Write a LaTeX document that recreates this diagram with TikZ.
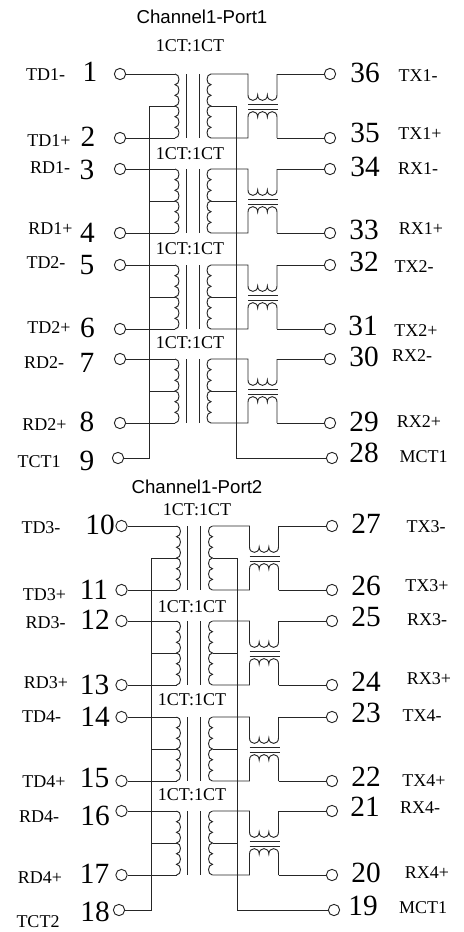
\documentclass[tikz,border=0pt]{standalone}
\usepackage{fontspec}
\setmainfont{Liberation Serif}
\newfontfamily\titlefont{Liberation Sans}
\usetikzlibrary{positioning}
\tikzset{
  term/.style={draw, circle, inner sep=0pt, minimum size=8.5pt},
  pinnum/.style={inner sep=0pt, text=black, font=\fontsize{22}{22}\selectfont},
  signame/.style={inner sep=0pt, text=black, font=\fontsize{13.5}{13.5}\selectfont},
  ratio/.style={inner sep=0pt, text=black, font=\fontsize{13.5}{13.5}\selectfont},
  porttitle/.style={inner sep=0pt, text=black, font=\titlefont\fontsize{14}{14}\selectfont},
  chan/.pic={
    \coordinate (-lt) at (175,0);
    \coordinate (-lc) at (175,32);
    \coordinate (-lb) at (175,64);
    \coordinate (-rc) at (211,32);
    \coordinate (-ct) at (277,0);
    \coordinate (-cb) at (277,64);
    \draw (175,0) \foreach \i in {1,...,6} {to[out=0,in=0,looseness=1.27] ++(0,10.67)};
    \draw (211,0) \foreach \i in {1,...,6} {to[out=180,in=180,looseness=1.27] ++(0,10.67)};
    \draw (186,0) -- (186,64);
    \draw (199,0) -- (199,64);
    \draw (211,0) -- (248,0) -- (248,21) \foreach \i in {1,2,3} {to[out=-90,in=-90,looseness=1.9] ++(9.67,0)} -- (277,0);
    \draw (211,64) -- (248,64) -- (248,43) \foreach \i in {1,2,3} {to[out=90,in=90,looseness=1.9] ++(9.67,0)} -- (277,64);
    \draw (248,30) -- (278,30);
    \draw (248,35) -- (278,35);
  }
}

\begin{document}
\begin{tikzpicture}[x=0.75pt,y=-0.75pt,line width=0.7pt,color=black!85]
      \useasboundingbox (0,0) rectangle (464,932);

      \node[porttitle] (title1) at (202,17) {Channel1-Port1};
      \node[porttitle] (title2) at (197,487) {Channel1-Port2};

      \node[ratio] (r1) at (190,46) {1CT:1CT};
      \node[ratio] (r2) at (190,154) {1CT:1CT};
      \node[ratio] (r3) at (190,249) {1CT:1CT};
      \node[ratio] (r4) at (190,343) {1CT:1CT};
      \node[ratio] (r5) at (197,510) {1CT:1CT};
      \node[ratio] (r6) at (192,607) {1CT:1CT};
      \node[ratio] (r7) at (192,700) {1CT:1CT};
      \node[ratio] (r8) at (192,795) {1CT:1CT};

      \pic (ch1) at (0,74) {chan};
      \pic (ch2) at (0,169) {chan};
      \pic (ch3) at (0,265) {chan};
      \pic (ch4) at (0,359) {chan};
      \pic (ch5) at (1.5,526) {chan};
      \pic (ch6) at (1.5,621) {chan};
      \pic (ch7) at (1.5,717) {chan};
      \pic (ch8) at (1.5,811) {chan};

      \node[term] (p1) at (120,74) {};
      \node[term] (p2) at (120,138) {};
      \node[term] (p3) at (120,169) {};
      \node[term] (p4) at (120,233) {};
      \node[term] (p5) at (120,265) {};
      \node[term] (p6) at (120,329) {};
      \node[term] (p7) at (120,359) {};
      \node[term] (p8) at (120,423) {};
      \node[term] (p9) at (118,458) {};
      \node[term] (p10) at (121.5,526) {};
      \node[term] (p11) at (121.5,590) {};
      \node[term] (p12) at (121.5,621) {};
      \node[term] (p13) at (121.5,685) {};
      \node[term] (p14) at (121.5,717) {};
      \node[term] (p15) at (121.5,781) {};
      \node[term] (p16) at (121.5,811) {};
      \node[term] (p17) at (121.5,875) {};
      \node[term] (p18) at (119,910) {};

      \node[term] (p36) at (330,74) {};
      \node[term] (p35) at (330,138) {};
      \node[term] (p34) at (330,169) {};
      \node[term] (p33) at (330,233) {};
      \node[term] (p32) at (330,265) {};
      \node[term] (p31) at (330,329) {};
      \node[term] (p30) at (330,359) {};
      \node[term] (p29) at (330,423) {};
      \node[term] (p28) at (332,458) {};
      \node[term] (p27) at (332,526) {};
      \node[term] (p26) at (332,590) {};
      \node[term] (p25) at (332,621) {};
      \node[term] (p24) at (332,685) {};
      \node[term] (p23) at (332,717) {};
      \node[term] (p22) at (332,781) {};
      \node[term] (p21) at (332,811) {};
      \node[term] (p20) at (332,875) {};
      \node[term] (p19) at (334,910) {};

      \coordinate (bl1) at (149,458);
      \coordinate (br1) at (236,458);
      \coordinate (bl2) at (151,910);
      \coordinate (br2) at (237.5,910);

      \draw (p1) -- (ch1-lt);
      \draw (p2) -- (ch1-lb);
      \draw (p3) -- (ch2-lt);
      \draw (p4) -- (ch2-lb);
      \draw (p5) -- (ch3-lt);
      \draw (p6) -- (ch3-lb);
      \draw (p7) -- (ch4-lt);
      \draw (p8) -- (ch4-lb);
      \draw (p10) -- (ch5-lt);
      \draw (p11) -- (ch5-lb);
      \draw (p12) -- (ch6-lt);
      \draw (p13) -- (ch6-lb);
      \draw (p14) -- (ch7-lt);
      \draw (p15) -- (ch7-lb);
      \draw (p16) -- (ch8-lt);
      \draw (p17) -- (ch8-lb);

      \draw (p36) -- (ch1-ct);
      \draw (p35) -- (ch1-cb);
      \draw (p34) -- (ch2-ct);
      \draw (p33) -- (ch2-cb);
      \draw (p32) -- (ch3-ct);
      \draw (p31) -- (ch3-cb);
      \draw (p30) -- (ch4-ct);
      \draw (p29) -- (ch4-cb);
      \draw (p27) -- (ch5-ct);
      \draw (p26) -- (ch5-cb);
      \draw (p25) -- (ch6-ct);
      \draw (p24) -- (ch6-cb);
      \draw (p23) -- (ch7-ct);
      \draw (p22) -- (ch7-cb);
      \draw (p21) -- (ch8-ct);
      \draw (p20) -- (ch8-cb);

      \draw (ch1-lc) -| (bl1) -- (p9);
      \draw (ch2-lc) -- (ch2-lc -| bl1);
      \draw (ch3-lc) -- (ch3-lc -| bl1);
      \draw (ch4-lc) -- (ch4-lc -| bl1);
      \draw (ch1-rc) -| (br1) -- (p28);
      \draw (ch2-rc) -- (ch2-rc -| br1);
      \draw (ch3-rc) -- (ch3-rc -| br1);
      \draw (ch4-rc) -- (ch4-rc -| br1);

      \draw (ch5-lc) -| (bl2) -- (p18);
      \draw (ch6-lc) -- (ch6-lc -| bl2);
      \draw (ch7-lc) -- (ch7-lc -| bl2);
      \draw (ch8-lc) -- (ch8-lc -| bl2);
      \draw (ch5-rc) -| (br2) -- (p19);
      \draw (ch6-rc) -- (ch6-rc -| br2);
      \draw (ch7-rc) -- (ch7-rc -| br2);
      \draw (ch8-rc) -- (ch8-rc -| br2);

      \node[pinnum] (n1) at (90,72) {1};
      \node[pinnum] (n2) at (88,137) {2};
      \node[pinnum] (n3) at (87,170) {3};
      \node[pinnum] (n4) at (87.5,233) {4};
      \node[pinnum] (n5) at (87,265) {5};
      \node[pinnum] (n6) at (87.5,328) {6};
      \node[pinnum] (n7) at (87,363) {7};
      \node[pinnum] (n8) at (87,422) {8};
      \node[pinnum] (n9) at (87,461) {9};
      \node[pinnum] (n10) at (100,525) {10};
      \node[pinnum] (n11) at (94,590) {11};
      \node[pinnum] (n12) at (95,620) {12};
      \node[pinnum] (n13) at (94.5,685) {13};
      \node[pinnum] (n14) at (95,717) {14};
      \node[pinnum] (n15) at (94.5,778) {15};
      \node[pinnum] (n16) at (95,816) {16};
      \node[pinnum] (n17) at (94.5,874) {17};
      \node[pinnum] (n18) at (95,912) {18};

      \node[pinnum] (n36) at (365,73) {36};
      \node[pinnum] (n35) at (365,133) {35};
      \node[pinnum] (n34) at (365,167) {34};
      \node[pinnum] (n33) at (364,230) {33};
      \node[pinnum] (n32) at (364,262) {32};
      \node[pinnum] (n31) at (363,326) {31};
      \node[pinnum] (n30) at (364,357) {30};
      \node[pinnum] (n29) at (364,422) {29};
      \node[pinnum] (n28) at (364,453) {28};
      \node[pinnum] (n27) at (366,524) {27};
      \node[pinnum] (n26) at (366,586) {26};
      \node[pinnum] (n25) at (366,617) {25};
      \node[pinnum] (n24) at (366,682) {24};
      \node[pinnum] (n23) at (366,713) {23};
      \node[pinnum] (n22) at (366,777) {22};
      \node[pinnum] (n21) at (365,807) {21};
      \node[pinnum] (n20) at (366,873) {20};
      \node[pinnum] (n19) at (363,906) {19};

      \node[signame] (s1) at (45.5,75) {TD1-};
      \node[signame] (s2) at (49,141) {TD1+};
      \node[signame] (s3) at (50,168) {RD1-};
      \node[signame] (s4) at (50.5,229) {RD1+};
      \node[signame] (s5) at (46,263) {TD2-};
      \node[signame] (s6) at (49,328) {TD2+};
      \node[signame] (s7) at (44,363) {RD2-};
      \node[signame] (s8) at (44.5,425) {RD2+};
      \node[signame] (s9) at (39,462) {TCT1};
      \node[signame] (s10) at (41,528) {TD3-};
      \node[signame] (s11) at (44.5,595) {TD3+};
      \node[signame] (s12) at (45.5,623) {RD3-};
      \node[signame] (s13) at (46,683) {RD3+};
      \node[signame] (s14) at (41.5,717) {TD4-};
      \node[signame] (s15) at (44,782) {TD4+};
      \node[signame] (s16) at (39,817) {RD4-};
      \node[signame] (s17) at (40,878) {RD4+};
      \node[signame] (s18) at (38,922) {TCT2};

      \node[signame] (s36) at (418,76) {TX1-};
      \node[signame] (s35) at (420,134) {TX1+};
      \node[signame] (s34) at (418,169) {RX1-};
      \node[signame] (s33) at (421,229) {RX1+};
      \node[signame] (s32) at (414,267) {TX2-};
      \node[signame] (s31) at (416,331) {TX2+};
      \node[signame] (s30) at (412,356) {RX2-};
      \node[signame] (s29) at (419,422) {RX2+};
      \node[signame] (s28) at (423.5,457) {MCT1};
      \node[signame] (s27) at (426,527) {TX3-};
      \node[signame] (s26) at (427,586) {TX3+};
      \node[signame] (s25) at (427,620) {RX3-};
      \node[signame] (s24) at (429,679) {RX3+};
      \node[signame] (s23) at (422,716) {TX4-};
      \node[signame] (s22) at (424,781) {TX4+};
      \node[signame] (s21) at (420,808) {RX4-};
      \node[signame] (s20) at (427,873) {RX4+};
      \node[signame] (s19) at (423,908) {MCT1};
    \end{tikzpicture}
\end{document}
